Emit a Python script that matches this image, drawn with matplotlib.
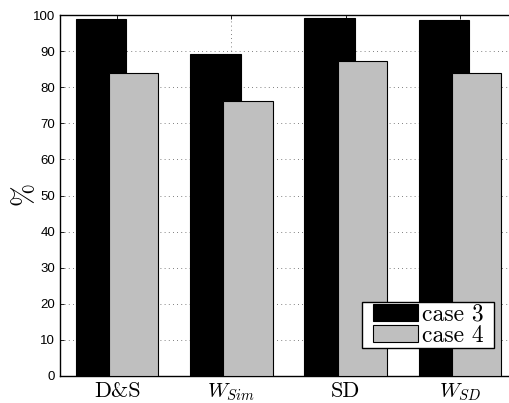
import numpy as np
import matplotlib
matplotlib.use('Agg')
import matplotlib.pyplot as plt
from matplotlib.path import Path

plt.rcParams['mathtext.fontset'] = 'cm'
plt.rcParams['font.family'] = ['Liberation Sans', 'DejaVu Sans']

# data
methods = ['D&S', r'$W_{Sim}$', 'SD', r'$W_{SD}$']
series = ['case 3', 'case 4']
case3 = [99.0, 89.2, 99.1, 98.5]
case4 = [84.0, 76.2, 87.3, 83.9]


def wide_box(x0, y0, width, height, mutation_size):
    # square frame with extra room left/right only
    px = 0.41 * mutation_size
    return Path([(x0 - px, y0), (x0 + width + px, y0),
                 (x0 + width + px, y0 + height), (x0 - px, y0 + height),
                 (x0 - px, y0)], closed=True)


fig = plt.figure(figsize=(5.10, 4.03), dpi=100)
# axes runs a bit past the right edge of the figure (cropped, like the original)
ax = fig.add_axes([60/510, 27/403, 457/510, 361/403])

x = np.arange(1, len(methods) + 1)
ax.bar(x - 0.14, case3, width=0.44, color='black', edgecolor='black',
       linewidth=0.8, label=series[0], zorder=2)
ax.bar(x + 0.145, case4, width=0.43, color='#bfbfbf', edgecolor='black',
       linewidth=0.8, label=series[1], zorder=3)

ax.set_xlim(0.5, 4.5)
ax.set_ylim(0, 100)
ax.set_yticks(np.arange(0, 101, 10))
ax.set_xticks(x)
ax.set_xticklabels(methods, fontsize=16)
for t in ax.get_xticklabels():
    if '$' in t.get_text():
        t.set_fontsize(15)
    else:
        t.set_fontfamily('cmr10')
ax.tick_params(axis='y', labelsize=9.5)
ax.tick_params(direction='in', top=True, right=True, length=3, width=0.6)
ax.tick_params(axis='x', pad=4)

ax.set_axisbelow(True)
ax.grid(True, linestyle=(0, (1, 4)), color='#555555', linewidth=0.6)

for s in ax.spines.values():
    s.set_linewidth(1.0)

ax.set_ylabel(r'$\%$', fontsize=20)
ax.yaxis.set_label_coords(-0.045, 0.5)

leg = ax.legend(loc='lower right', bbox_to_anchor=(0.9287, 0.078), borderaxespad=0,
                prop={'family': 'cmr10', 'size': 17}, fancybox=False,
                framealpha=1, edgecolor='black',
                handlelength=1.9, handleheight=0.72, handletextpad=0.17,
                labelspacing=-0.05, borderpad=0.05)
leg.get_frame().set_linewidth(1.0)
leg.get_frame().set_boxstyle(wide_box)

fig.savefig('out.png', dpi=100)
